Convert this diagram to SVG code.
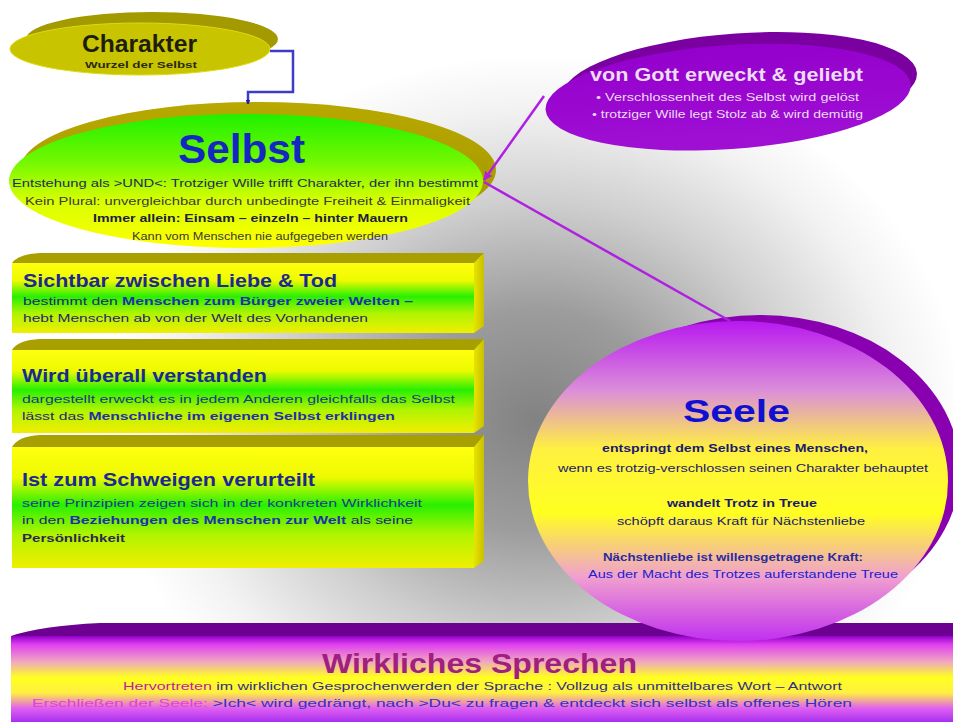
<svg xmlns="http://www.w3.org/2000/svg" width="953" height="722" viewBox="0 0 953 722">
<defs>
<radialGradient id="bg" gradientUnits="userSpaceOnUse" cx="535" cy="420" r="430" gradientTransform="translate(535 420) scale(1 0.85) translate(-535 -420)">
<stop offset="0" stop-color="#828282"/>
<stop offset="0.3" stop-color="#9c9c9c"/>
<stop offset="0.6" stop-color="#cfcfcf"/>
<stop offset="0.85" stop-color="#f2f2f2"/>
<stop offset="1" stop-color="#ffffff"/>
</radialGradient>
<linearGradient id="selbstFace" x1="0" y1="0" x2="0" y2="1">
<stop offset="0" stop-color="#20f000"/>
<stop offset="0.35" stop-color="#70f800"/>
<stop offset="0.65" stop-color="#d8ff00"/>
<stop offset="1" stop-color="#ffff00"/>
</linearGradient>
<linearGradient id="olive" x1="0" y1="0" x2="0" y2="1">
<stop offset="0" stop-color="#b8a800"/>
<stop offset="1" stop-color="#a09400"/>
</linearGradient>
<linearGradient id="boxg" x1="0" y1="0" x2="0" y2="1">
<stop offset="0" stop-color="#ffff10"/>
<stop offset="0.25" stop-color="#eefa00"/>
<stop offset="0.48" stop-color="#28f000"/>
<stop offset="0.72" stop-color="#b0f400"/>
<stop offset="1" stop-color="#f0ee00"/>
</linearGradient>
<linearGradient id="sideg" x1="0" y1="0" x2="1" y2="0">
<stop offset="0" stop-color="#e8e400"/>
<stop offset="1" stop-color="#c8c000"/>
</linearGradient>
<linearGradient id="seeleg" x1="0" y1="0" x2="0" y2="1">
<stop offset="0" stop-color="#b818f0"/>
<stop offset="0.22" stop-color="#dc90d8"/>
<stop offset="0.4" stop-color="#fff040"/>
<stop offset="0.6" stop-color="#ffff20"/>
<stop offset="0.8" stop-color="#f0a0d0"/>
<stop offset="1" stop-color="#c030f0"/>
</linearGradient>
<linearGradient id="bandg" x1="0" y1="0" x2="0" y2="1">
<stop offset="0" stop-color="#9000c8"/>
<stop offset="0.1" stop-color="#e040f0"/>
<stop offset="0.3" stop-color="#f0a8c0"/>
<stop offset="0.48" stop-color="#ffff20"/>
<stop offset="0.66" stop-color="#fff040"/>
<stop offset="0.84" stop-color="#e060f0"/>
<stop offset="1" stop-color="#a830f0"/>
</linearGradient>
<linearGradient id="gottg" x1="0" y1="0" x2="0" y2="1">
<stop offset="0" stop-color="#9400cc"/>
<stop offset="1" stop-color="#a010d4"/>
</linearGradient>
<marker id="arrBlue" viewBox="0 0 10 10" refX="9" refY="5" markerWidth="5" markerHeight="5" orient="auto" markerUnits="userSpaceOnUse">
<path d="M0,0 L10,5 L0,10 Z" fill="#202090"/>
</marker>
<marker id="arrMag" viewBox="0 0 10 10" refX="9" refY="5" markerWidth="9" markerHeight="9" orient="auto" markerUnits="userSpaceOnUse">
<path d="M0,0 L10,5 L0,10 Z" fill="#b020e0"/>
</marker>
</defs>
<style>
text{font-family:"Liberation Sans",Arial,sans-serif}
.b{font-weight:bold}
.sm{font-size:11px}
.lav{fill:#ecdcf4}
.con{fill:none;stroke-width:2.5}
</style>

<rect x="0" y="0" width="953" height="722" fill="url(#bg)"/>

<g id="sprechen">
<path d="M11,636 Q40,626 100,623 L953,623 L953,636 Z" fill="#6c0090"/>
<rect x="11" y="636" width="942" height="86" fill="url(#bandg)"/>
<text x="322" y="673" class="b" font-size="28" fill="#a02080" textLength="315" lengthAdjust="spacingAndGlyphs">Wirkliches Sprechen</text>
<text x="123" y="690" class="sm" textLength="719" lengthAdjust="spacingAndGlyphs"><tspan fill="#c020a0">Hervortreten</tspan><tspan fill="#303080"> im wirklichen Gesprochenwerden  der Sprache : Vollzug als unmittelbares  Wort – Antwort</tspan></text>
<text x="32" y="707" class="sm" textLength="820" lengthAdjust="spacingAndGlyphs"><tspan fill="#e040e0">Erschließen  der Seele:</tspan><tspan fill="#3030d0">  &gt;Ich&lt; wird gedrängt, nach &gt;Du&lt; zu fragen &amp; entdeckt  sich selbst als offenes  Hören</tspan></text>
</g>

<g id="charakter">
<ellipse cx="152" cy="39" rx="126" ry="27" fill="#a39a00"/>
<ellipse cx="140" cy="49" rx="130" ry="26" fill="#c8c400" stroke="#dcdc10" stroke-width="1"/>
<text x="82" y="52" class="b" font-size="24" fill="#1e1e10" textLength="115" lengthAdjust="spacingAndGlyphs">Charakter</text>
<text x="85" y="68" class="b" font-size="9.5" fill="#2a2a10" textLength="112" lengthAdjust="spacingAndGlyphs">Wurzel der Selbst</text>
</g>

<g id="selbst">
<ellipse cx="258" cy="170" rx="238" ry="68" fill="url(#olive)"/>
<ellipse cx="246" cy="181" rx="237" ry="67" fill="url(#selbstFace)"/>
<text x="178" y="163" class="b" font-size="40" fill="#1428c0" textLength="127" lengthAdjust="spacingAndGlyphs">Selbst</text>
<text x="12" y="187" class="sm" fill="#2a2a50" textLength="466" lengthAdjust="spacingAndGlyphs">Entstehung als &gt;UND&lt;: Trotziger  Wille trifft Charakter, der ihn bestimmt</text>
<text x="25" y="205" class="sm" fill="#3a3a3a" textLength="445" lengthAdjust="spacingAndGlyphs">Kein Plural: unvergleichbar durch unbedingte Freiheit &amp; Einmaligkeit</text>
<text x="93" y="222" class="sm b" fill="#202040" textLength="315" lengthAdjust="spacingAndGlyphs">Immer allein: Einsam – einzeln – hinter Mauern</text>
<text x="132" y="240" class="sm" fill="#3a3a3a" textLength="256" lengthAdjust="spacingAndGlyphs">Kann vom Menschen nie aufgegeben werden</text>
</g>

<g id="box1">
<path d="M12,263 Q18,254 40,253 L484,253 L474,263 Z" fill="#a8a000"/>
<rect x="12" y="263" width="462" height="70" fill="url(#boxg)"/>
<polygon points="474,263 484,253 484,326 474,333" fill="url(#sideg)"/>
<text x="23" y="287" class="b" font-size="19" fill="#1a2a90" textLength="314" lengthAdjust="spacingAndGlyphs">Sichtbar zwischen Liebe &amp; Tod</text>
<text x="23" y="305" class="sm" textLength="390" lengthAdjust="spacingAndGlyphs"><tspan fill="#1c2a70">bestimmt den </tspan><tspan fill="#2030a8" font-weight="bold">Menschen  zum Bürger zweier Welten –</tspan></text>
<text x="23" y="322" class="sm" fill="#1c2a70" textLength="345" lengthAdjust="spacingAndGlyphs">hebt Menschen  ab von der Welt des Vorhandenen</text>
</g>

<g id="box2">
<path d="M12,350 Q18,340 40,339 L484,339 L474,350 Z" fill="#a8a000"/>
<rect x="12" y="350" width="462" height="83" fill="url(#boxg)"/>
<polygon points="474,350 484,339 484,426 474,433" fill="url(#sideg)"/>
<text x="22" y="382" class="b" font-size="19" fill="#1a2a90" textLength="245" lengthAdjust="spacingAndGlyphs">Wird überall verstanden</text>
<text x="22" y="403" class="sm" fill="#1c3a80" textLength="433" lengthAdjust="spacingAndGlyphs">dargestellt erweckt es in jedem Anderen  gleichfalls das  Selbst</text>
<text x="22" y="420" class="sm" textLength="373" lengthAdjust="spacingAndGlyphs"><tspan fill="#1c2a70">lässt das </tspan><tspan fill="#2030a8" font-weight="bold">Menschliche  im eigenen  Selbst erklingen</tspan></text>
</g>

<g id="box3">
<path d="M12,447 Q18,436 40,435 L484,435 L474,447 Z" fill="#a8a000"/>
<rect x="12" y="447" width="462" height="121" fill="url(#boxg)"/>
<polygon points="474,447 484,435 484,561 474,568" fill="url(#sideg)"/>
<text x="22" y="486" class="b" font-size="19" fill="#1a2a90" textLength="293" lengthAdjust="spacingAndGlyphs">Ist zum Schweigen verurteilt</text>
<text x="22" y="507" class="sm" fill="#1c3a90" textLength="400" lengthAdjust="spacingAndGlyphs">seine Prinzipien zeigen sich in der konkreten Wirklichkeit</text>
<text x="22" y="524" class="sm" textLength="391" lengthAdjust="spacingAndGlyphs"><tspan fill="#1c2a70">in den </tspan><tspan fill="#2030a8" font-weight="bold">Beziehungen des Menschen zur Welt</tspan><tspan fill="#1c2a70"> als seine</tspan></text>
<text x="22" y="542" class="sm b" fill="#2a2a50" textLength="103" lengthAdjust="spacingAndGlyphs">Persönlichkeit</text>
</g>

<g id="gott">
<g transform="rotate(-4 730 95)">
<ellipse cx="740" cy="86" rx="178" ry="52" fill="#7a00a0"/>
<ellipse cx="728" cy="97" rx="183" ry="52" fill="url(#gottg)"/>
</g>
<text x="590" y="81" class="b lav" font-size="19" textLength="273" lengthAdjust="spacingAndGlyphs">von Gott erweckt &amp; geliebt</text>
<text x="596" y="101" class="lav" font-size="10.5" textLength="263" lengthAdjust="spacingAndGlyphs">• Verschlossenheit des Selbst wird gelöst</text>
<text x="592" y="118" class="lav" font-size="10.5" textLength="271" lengthAdjust="spacingAndGlyphs">• trotziger Wille legt Stolz ab &amp; wird demütig</text>
</g>

<g id="seele">
<ellipse cx="760" cy="470" rx="200" ry="155" fill="#8800b0"/>
<ellipse cx="738" cy="481" rx="210" ry="160" fill="url(#seeleg)"/>
<text x="683" y="422" class="b" font-size="32" fill="#1010d0" textLength="107" lengthAdjust="spacingAndGlyphs">Seele</text>
<text x="602" y="452" class="sm b" fill="#1a1a70" textLength="266" lengthAdjust="spacingAndGlyphs">entspringt dem Selbst eines Menschen,</text>
<text x="558" y="472" class="sm" fill="#1a1a70" textLength="370" lengthAdjust="spacingAndGlyphs">wenn es trotzig-verschlossen seinen Charakter behauptet</text>
<text x="667" y="507" class="sm b" fill="#1a1a70" textLength="150" lengthAdjust="spacingAndGlyphs">wandelt Trotz  in Treue</text>
<text x="617" y="525" class="sm" fill="#1a1a70" textLength="248" lengthAdjust="spacingAndGlyphs">schöpft daraus Kraft für Nächstenliebe</text>
<text x="603" y="561" class="sm b" fill="#2a2aa0" textLength="260" lengthAdjust="spacingAndGlyphs">Nächstenliebe ist willensgetragene Kraft:</text>
<text x="588" y="578" class="sm" fill="#2020d0" textLength="310" lengthAdjust="spacingAndGlyphs">Aus der Macht des Trotzes auferstandene Treue</text>
</g>

<g id="connectors">
<path d="M270,51 H293 V92 H248 V104" class="con" stroke="#3c3cc8" stroke-width="2" marker-end="url(#arrBlue)"/>
<path d="M544,96 L484,180" class="con" stroke="#b020e0" marker-end="url(#arrMag)"/>
<path d="M484,182 L730,321" class="con" stroke="#b020e0"/>
</g>
</svg>
